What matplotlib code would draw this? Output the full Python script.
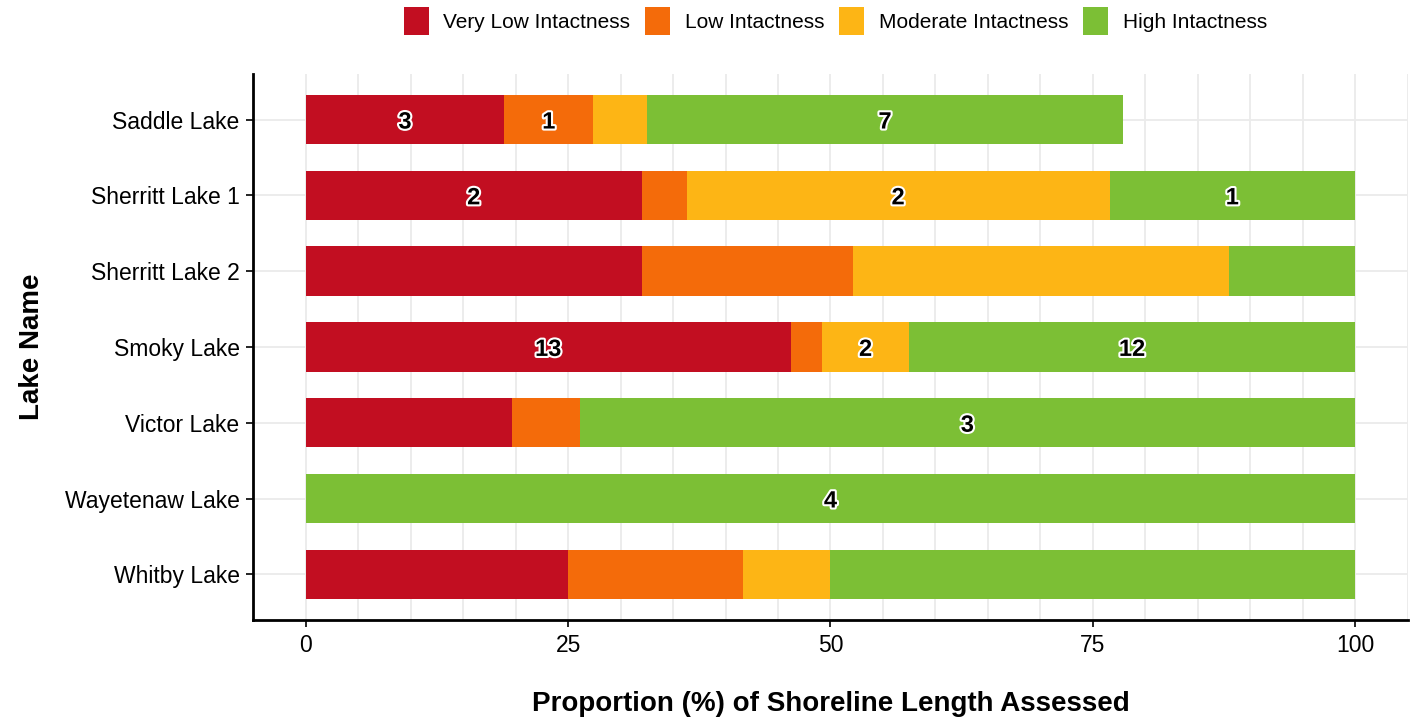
import numpy as np
import matplotlib.pyplot as plt
import matplotlib.patheffects as pe
from matplotlib.patches import Patch

plt.rcParams['font.family'] = ['Liberation Sans', 'DejaVu Sans']

# Данные
lakes = ['Saddle Lake', 'Sherritt Lake 1', 'Sherritt Lake 2', 'Smoky Lake',
         'Victor Lake', 'Wayetenaw Lake', 'Whitby Lake']
categories = ['Very Low Intactness', 'Low Intactness', 'Moderate Intactness', 'High Intactness']
colors = ['#C20E21', '#F46B0A', '#FDB515', '#7CBF35']

very_low = [18.9, 32.0, 32.0, 46.2, 19.6, 0.0, 25.0]
low = [8.5, 4.3, 20.1, 3.0, 6.5, 0.0, 16.7]
moderate = [5.1, 40.3, 35.9, 8.3, 0.0, 0.0, 8.3]
high = [45.4, 23.4, 12.0, 42.5, 73.9, 100.0, 50.0]

# подписи (количество участков), '' = без подписи
lab_very_low = ['3', '2', '', '13', '', '', '']
lab_low = ['1', '', '', '', '', '', '']
lab_moderate = ['', '2', '', '2', '', '', '']
lab_high = ['7', '1', '', '12', '3', '4', '']

series = [very_low, low, moderate, high]
labels = [lab_very_low, lab_low, lab_moderate, lab_high]

fig = plt.figure(figsize=(14.16, 7.19), dpi=100)
ax = fig.add_axes([0.179, 0.138, 0.815, 0.759])

y = np.arange(len(lakes))
left = np.zeros(len(lakes))
for vals, labs, col in zip(series, labels, colors):
    vals = np.array(vals)
    ax.barh(y, vals, left=left, height=0.65, color=col, zorder=2)
    for yi, (l, v, t) in enumerate(zip(left, vals, labs)):
        if t:
            ax.text(l + v / 2, yi, t, ha='center', va='center_baseline', fontsize=17,
                    fontweight='bold', color='black', zorder=3,
                    path_effects=[pe.withStroke(linewidth=3, foreground='white')])
    left = left + vals

ax.set_xlim(-5, 105)
ax.set_ylim(len(lakes) - 0.4, -0.6)
ax.set_yticks(y)
ax.set_yticklabels(lakes, fontsize=16.5)
ax.set_xticks([0, 25, 50, 75, 100])
ax.set_xticklabels(['0', '25', '50', '75', '100'], fontsize=16.5)
ax.set_xticks(np.arange(-5, 106, 5), minor=True)
ax.tick_params(axis='x', which='minor', length=0)
ax.tick_params(axis='both', which='major', length=5, width=1.2, color='black', pad=5)

ax.grid(True, which='both', axis='x', color='#EBEBEB', linewidth=1.3, zorder=0)
ax.grid(True, which='major', axis='y', color='#EBEBEB', linewidth=1.3, zorder=0)
ax.set_axisbelow(True)

for s in ['top', 'right']:
    ax.spines[s].set_visible(False)
for s in ['left', 'bottom']:
    ax.spines[s].set_linewidth(2)
    ax.spines[s].set_color('black')

ax.set_xlabel('Proportion (%) of Shoreline Length Assessed', fontsize=20,
              fontweight='bold', labelpad=25)
ax.set_ylabel('Lake Name', fontsize=20, fontweight='bold', labelpad=14)

handles = [Patch(facecolor=c, label=n) for c, n in zip(colors, categories)]
fig.legend(handles=handles, loc='center', bbox_to_anchor=(0.59, 0.971), ncol=4,
           frameon=False, fontsize=15, handlelength=1.2, handleheight=1.7,
           columnspacing=0.72, handletextpad=0.7)

fig.savefig('out.png', dpi=100)
